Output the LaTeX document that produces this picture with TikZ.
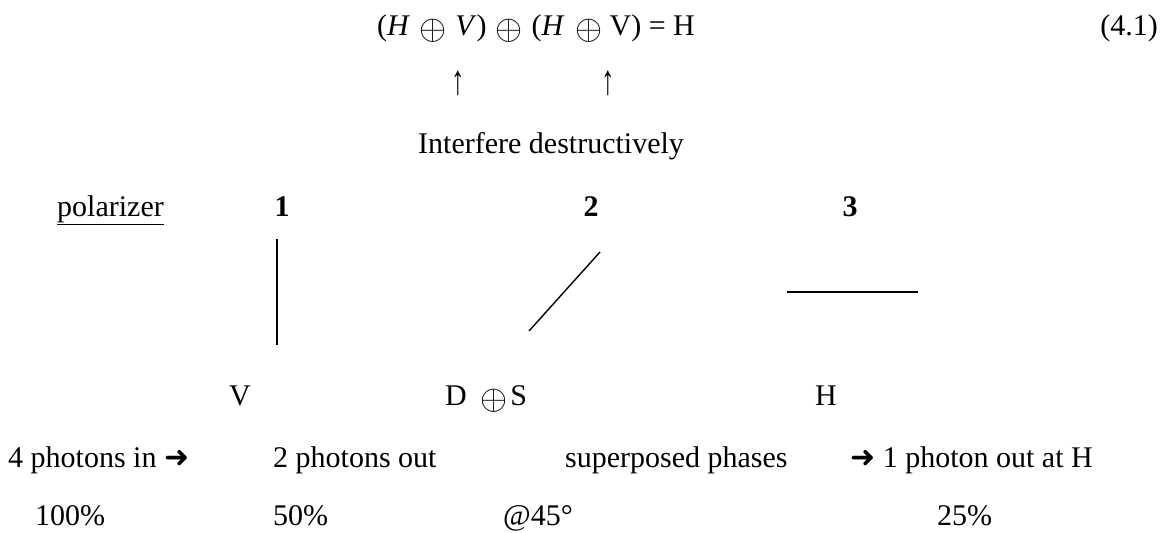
\documentclass[tikz,border=0pt]{standalone}
\usepackage{fontspec}
\usepackage{graphicx}
\setmainfont{Liberation Serif}
\newfontfamily\symfont{DejaVu Sans}
\newcommand{\bigop}{\raisebox{-0.14em}{\scalebox{1.4}{$\oplus$}}}
\begin{document}
\begin{tikzpicture}[x=1pt,y=-1pt,
  txt/.style={inner sep=0pt,anchor=base west,font=\fontsize{30}{34}\selectfont},
  pline/.style={line width=1.4pt}]
\useasboundingbox (0,0) rectangle (1171,533);
% equation
\node[txt] (eq) at (377,35) {(\textit{H}\hspace{0.3em}\bigop\hspace{0.3em}\textit{V})\hspace{0.3em}\bigop\hspace{0.3em}(\textit{H}\hspace{0.35em}\bigop\hspace{0.25em}V) = H};
\node[txt,anchor=base east] (num) at (1158,35) {(4.1)};
\node[txt,anchor=center] (ar1) at (458,83) {\scalebox{0.9}[1.4]{↑}};
\node[txt,anchor=center] (ar2) at (608,83) {\scalebox{0.9}[1.4]{↑}};
\node[txt] (interf) at (418,153) {Interfere destructively};
% polarizer row
\node[txt] (pol) at (57,216) {\underline{polarizer}};
\node[txt,anchor=base] (p1) at (282,216) {\textbf{1}};
\node[txt,anchor=base] (p2) at (591,216) {\textbf{2}};
\node[txt,anchor=base] (p3) at (850,216) {\textbf{3}};
% polarizer symbols
\coordinate (v1) at (277,239); \coordinate (v2) at (277,345);
\coordinate (d1) at (529,331); \coordinate (d2) at (600,252);
\coordinate (h1) at (787,292); \coordinate (h2) at (918,292);
\draw[pline] (v1) -- (v2);
\draw[pline] (d1) -- (d2);
\draw[pline] (h1) -- (h2);
% states
\node[txt,anchor=base] (sv) at (240,405) {V};
\node[txt] (sds) at (445,405) {D\hspace{0.45em}\bigop\hspace{0.1em}S};
\node[txt,anchor=base] (sh) at (826,405) {H};
% photons row
\node[txt] (r1) at (8,467) {4 photons in {\symfont ➜}};
\node[txt] (r2) at (273,467) {2 photons out};
\node[txt] (r3) at (565,467) {superposed phases};
\node[txt] (r4) at (850,467) {{\symfont ➜} 1 photon out at H};
% percent row
\node[txt] (c1) at (35,525) {100\%};
\node[txt] (c2) at (273,525) {50\%};
\node[txt] (c3) at (503,525) {@45°};
\node[txt] (c4) at (937,525) {25\%};
\end{tikzpicture}
\end{document}
